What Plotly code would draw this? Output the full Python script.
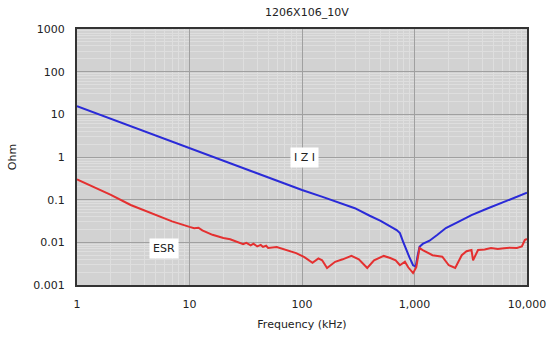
import plotly.graph_objects as go

# |Z| curve (kHz, Ohm)
z_freq = [1, 2, 5, 10, 20, 60, 100, 150, 200, 295, 400, 500, 694, 742, 790, 842, 900, 971, 1025, 1060, 1109, 1183, 1250, 1360, 1600, 1900, 2500, 3210, 4500, 6240, 8000, 10000]
z_val = [15.6, 7.9, 3.2, 1.62, 0.82, 0.28, 0.168, 0.118, 0.089, 0.063, 0.042, 0.032, 0.0194, 0.0165, 0.0105, 0.0066, 0.0045, 0.0029, 0.0027, 0.0045, 0.0079, 0.0092, 0.0097, 0.0109, 0.0150, 0.0216, 0.031, 0.0436, 0.063, 0.089, 0.115, 0.145]

# ESR curve (kHz, Ohm)
esr_freq = [1, 2, 3, 5, 7, 10, 11, 12, 13, 16, 20, 23, 25, 27, 30, 32, 35, 37, 40, 43, 45, 48, 50, 59.6, 70, 88.7, 105, 124, 140, 151, 167, 197, 230, 275, 320, 358, 380, 437, 533, 609, 680, 742, 822, 879, 971, 1037, 1109, 1183, 1300, 1445, 1600, 1766, 2018, 2300, 2630, 2900, 3210, 3316, 3670, 4200, 4790, 5500, 6240, 7000, 8130, 9000, 9560, 10000]
esr_val = [0.30, 0.13, 0.075, 0.044, 0.031, 0.023, 0.0215, 0.0220, 0.019, 0.015, 0.0126, 0.0118, 0.0108, 0.0100, 0.0091, 0.0097, 0.0085, 0.0093, 0.0080, 0.0087, 0.0078, 0.0083, 0.0074, 0.0078, 0.0068, 0.0056, 0.0045, 0.0033, 0.0042, 0.0038, 0.0025, 0.0035, 0.0040, 0.0048, 0.0040, 0.0029, 0.0025, 0.0038, 0.0048, 0.0043, 0.0038, 0.0029, 0.0035, 0.0026, 0.0019, 0.0026, 0.0074, 0.0066, 0.0058, 0.0050, 0.0048, 0.0046, 0.0029, 0.0025, 0.0050, 0.0062, 0.0066, 0.0038, 0.0066, 0.0068, 0.0074, 0.0070, 0.0073, 0.0075, 0.0074, 0.0080, 0.0113, 0.0120]

x_ticks = [1, 10, 100, 1000, 10000]
x_tick_labels = ["1", "10", "100", "1,000", "10,000"]
y_ticks = [0.001, 0.01, 0.1, 1, 10, 100, 1000]
y_tick_labels = ["0.001", "0.01", "0.1", "1", "10", "100", "1000"]

x_minor = [d * m for d in x_ticks[:-1] for m in range(2, 10)]
y_minor = [d * m for d in y_ticks[:-1] for m in range(2, 10)]

font = "DejaVu Sans"

fig = go.Figure()
fig.add_trace(go.Scatter(x=z_freq, y=z_val, mode="lines", line=dict(color="#2a2ad8", width=2), showlegend=False))
fig.add_trace(go.Scatter(x=esr_freq, y=esr_val, mode="lines", line=dict(color="#e43030", width=2), showlegend=False))

fig.add_annotation(x=2.02, y=0.0, xref="x", yref="y", text="I Z I", showarrow=False,
                   bgcolor="white", font=dict(family=font, size=11, color="#222"), borderpad=3)
fig.add_annotation(x=0.775, y=-2.15, xref="x", yref="y", text="ESR", showarrow=False,
                   bgcolor="white", font=dict(family=font, size=11, color="#222"), borderpad=3)

fig.update_layout(
    width=558, height=344,
    margin=dict(l=73, r=23, t=29, b=59),
    paper_bgcolor="white", plot_bgcolor="#d2d2d2",
    font=dict(family=font, size=11, color="#222"),
    title=dict(text="1206X106_10V", x=0.55, xanchor="center", y=0.965, yanchor="middle",
               font=dict(family=font, size=11, color="#222")),
)
fig.update_xaxes(
    type="log", range=[0, 4], tickvals=x_ticks, ticktext=x_tick_labels,
    showgrid=True, gridcolor="#a0a0a0", gridwidth=1,
    minor=dict(tickmode="array", tickvals=x_minor, showgrid=True, gridcolor="#dedede", gridwidth=1, ticks=""),
    showline=True, linecolor="#333", linewidth=2, mirror=True,
    ticks="", ticklabelstandoff=8, zeroline=False,
    title=dict(text="Frequency (kHz)", font=dict(family=font, size=11, color="#222"), standoff=10),
)
fig.update_yaxes(
    type="log", range=[-3, 3], tickvals=y_ticks, ticktext=y_tick_labels,
    showgrid=True, gridcolor="#a0a0a0", gridwidth=1,
    minor=dict(tickmode="array", tickvals=y_minor, showgrid=True, gridcolor="#dedede", gridwidth=1, ticks=""),
    showline=True, linecolor="#333", linewidth=2, mirror=True,
    ticks="", ticklabelstandoff=8, zeroline=False,
    title=dict(text="Ohm", font=dict(family=font, size=11, color="#222"), standoff=14),
)

fig.write_html("out.html")
